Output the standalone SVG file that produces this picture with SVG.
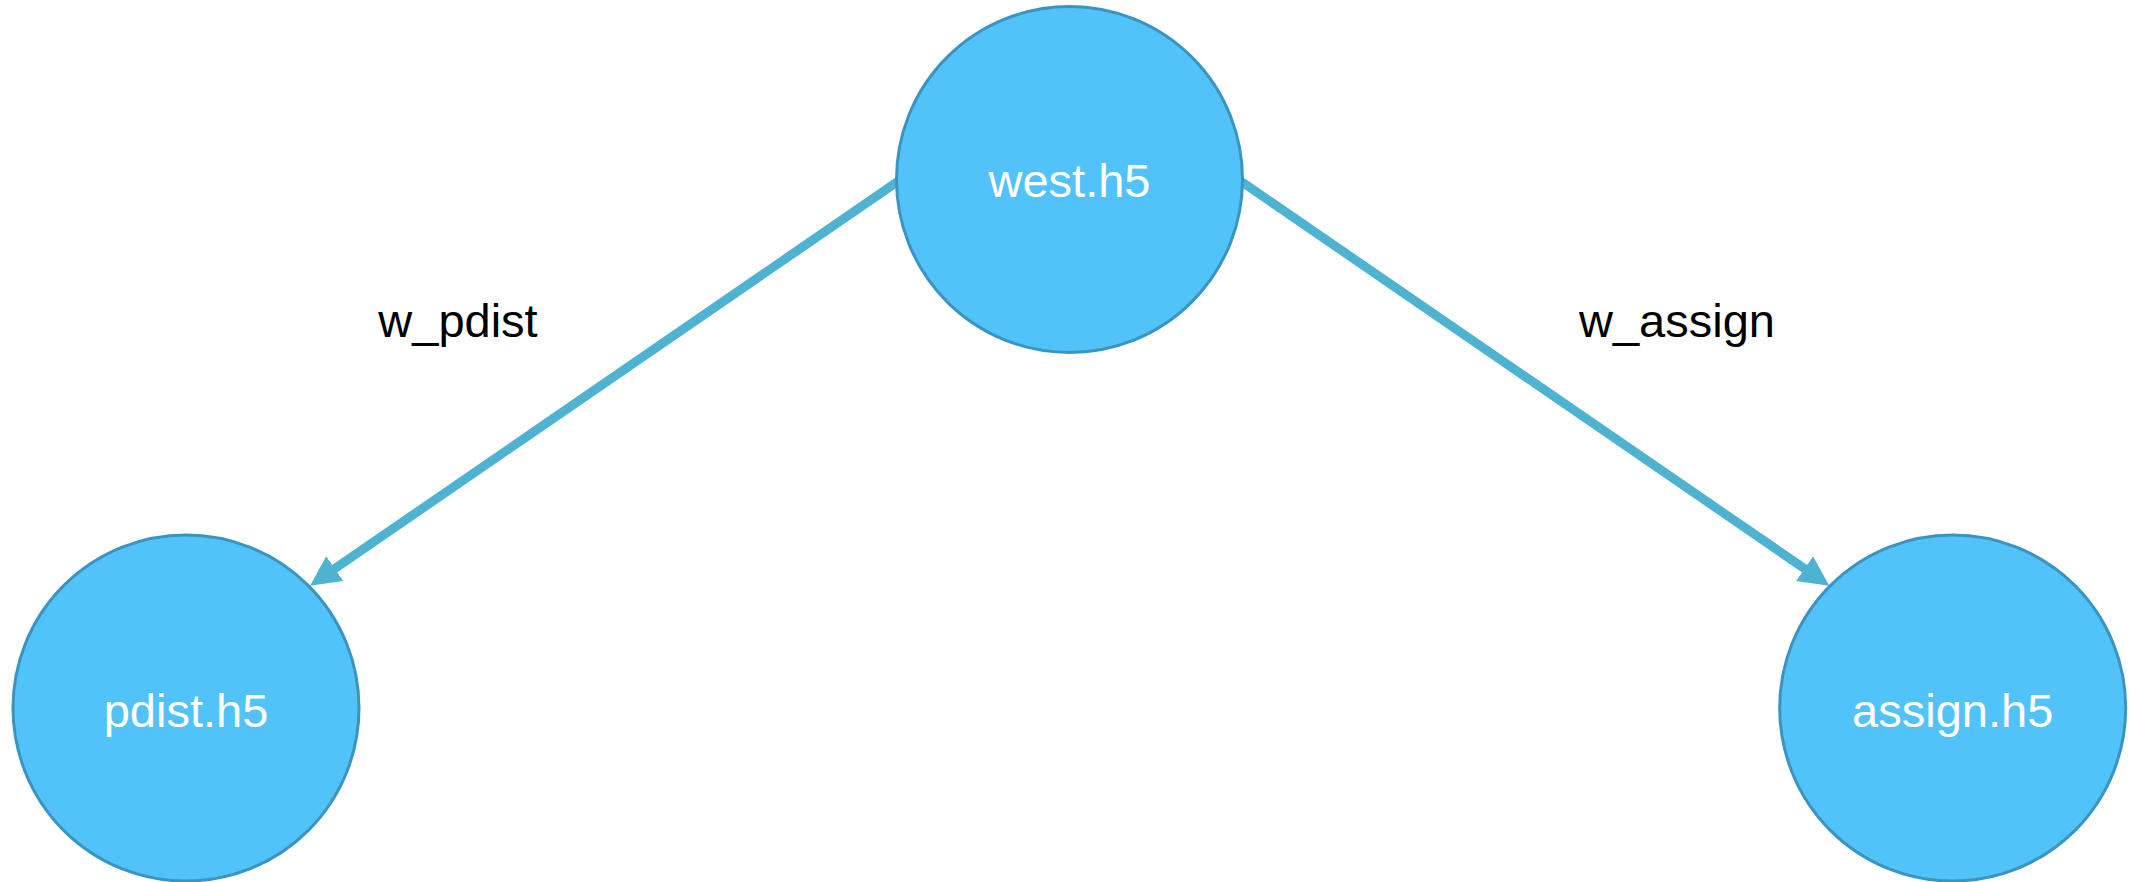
<svg xmlns="http://www.w3.org/2000/svg" width="2131" height="882" viewBox="0 0 2131 882">
  <style>
    .node circle { fill: #52c3f9; stroke: #3a94c2; stroke-width: 3; }
    .node text { fill: #ffffff; font-family: "Liberation Sans", Arial, sans-serif; font-size: 47px; text-anchor: middle; }
    .edge { stroke: #4db3d1; stroke-width: 9; fill: none; }
    .elabel { fill: #000000; font-family: "Liberation Sans", Arial, sans-serif; font-size: 47px; text-anchor: middle; }
  </style>
  <defs>
    <marker id="arrow" markerUnits="userSpaceOnUse" markerWidth="32" markerHeight="32" refX="2" refY="15" orient="auto">
      <path d="M0,0 L30,15 L0,30 Z" fill="#4db3d1"/>
    </marker>
  </defs>
  <rect width="2131" height="882" fill="#ffffff"/>

  <g id="connectors">
    <line class="edge" x1="897" y1="182" x2="333.1" y2="569.8" marker-end="url(#arrow)"/>
    <line class="edge" x1="1242" y1="182" x2="1806.2" y2="569.8" marker-end="url(#arrow)"/>
    <text class="elabel" x="458" y="337">w_pdist</text>
    <text class="elabel" x="1677" y="337">w_assign</text>
  </g>

  <g id="west" class="node">
    <circle cx="1069.5" cy="179.5" r="173"/>
    <text x="1069.5" y="197">west.h5</text>
  </g>

  <g id="pdist" class="node">
    <circle cx="186" cy="708" r="173"/>
    <text x="186" y="726.5">pdist.h5</text>
  </g>

  <g id="assign" class="node">
    <circle cx="1952.7" cy="708" r="173"/>
    <text x="1952.7" y="726.5">assign.h5</text>
  </g>
</svg>
